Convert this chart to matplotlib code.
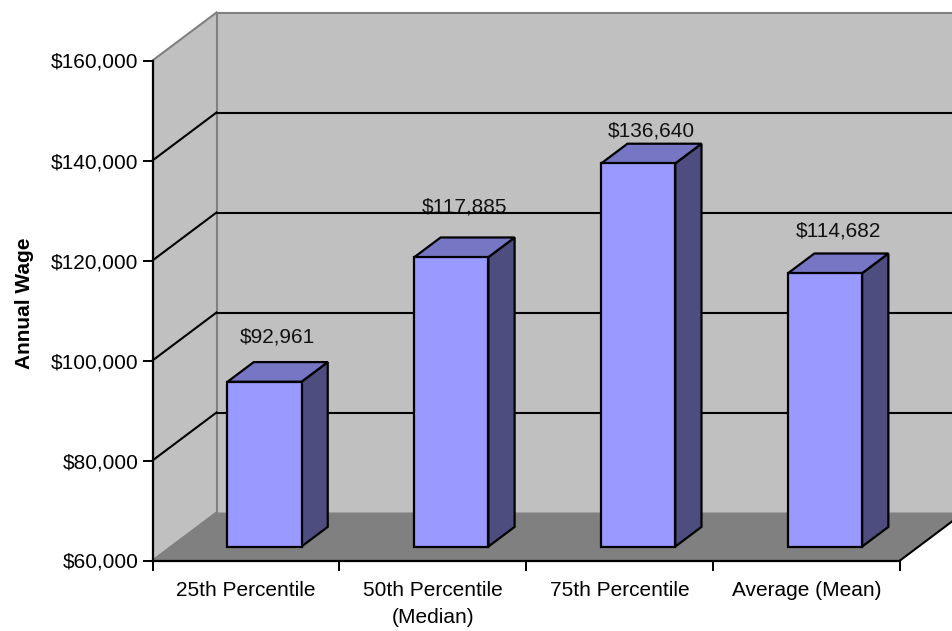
import matplotlib.pyplot as plt
from matplotlib.patches import Polygon
from matplotlib.ticker import FuncFormatter

plt.rcParams['font.family'] = ['Liberation Sans', 'DejaVu Sans']

categories = ["25th Percentile", "50th Percentile\n(Median)", "75th Percentile", "Average (Mean)"]
wages = [92961, 117885, 136640, 114682]
y_ticks = [60000, 80000, 100000, 120000, 140000, 160000]

Y_MIN, Y_MAX = 60000, 160000
N = len(categories)

# depth of the 3d box in data units (x: categories, y: wage)
DX = 0.3425
DY = 9600
# bar sits between these fractions of the depth
F1, F2 = 0.29, 0.70
BAR_W = 0.396

WALL = "#C0C0C0"
FLOOR = "#808080"
EDGE = "#808080"
FRONT = "#9999FF"
TOP = "#7676C4"
SIDE = "#4D4D80"

# how far each value label sits above its bar top (points)
label_lift = [21, 25, 12.5, 19.5]

fig = plt.figure(figsize=(9.52, 6.31), dpi=100)
ax = fig.add_axes([152.5 / 952, 70.5 / 631, 747.5 / 952, 500 / 631])
ax.set_xlim(0, N)
ax.set_ylim(Y_MIN, Y_MAX)
ax.patch.set_visible(False)


def poly(pts, fc, ec="none", lw=0, z=1):
    p = Polygon(pts, closed=True, facecolor=fc, edgecolor=ec, linewidth=lw,
                zorder=z, clip_on=False, joinstyle="miter")
    ax.add_patch(p)


# walls and floor
poly([(0, Y_MIN), (0, Y_MAX), (DX, Y_MAX + DY), (DX, Y_MIN + DY)], WALL, z=0.5)
poly([(DX, Y_MIN + DY), (DX, Y_MAX + DY), (N + DX + 1, Y_MAX + DY), (N + DX + 1, Y_MIN + DY)], WALL, z=0.5)
poly([(0, Y_MIN), (N, Y_MIN), (N + DX, Y_MIN + DY), (DX, Y_MIN + DY)], FLOOR, z=0.6)

ax.plot([0, DX], [Y_MAX, Y_MAX + DY], color=EDGE, lw=1.5, zorder=0.8, clip_on=False)
ax.plot([DX, N + DX + 1], [Y_MAX + DY, Y_MAX + DY], color=EDGE, lw=1.5, zorder=0.8, clip_on=False)
ax.plot([DX, DX], [Y_MIN + DY, Y_MAX + DY], color=EDGE, lw=1.5, zorder=0.8, clip_on=False)
ax.plot([0, DX], [Y_MIN, Y_MIN + DY], color=EDGE, lw=1.5, zorder=0.8, clip_on=False)
ax.plot([N, N + DX], [Y_MIN, Y_MIN + DY], color="black", lw=1.5, zorder=0.8, clip_on=False)

# gridlines on the side and back walls
for v in y_ticks[1:-1]:
    ax.plot([0, DX], [v, v + DY], color="black", lw=1.5, zorder=1.2, clip_on=False)
    ax.plot([DX + 0.004, N + DX + 1], [v + DY, v + DY], color="black", lw=1.5,
            zorder=1.2, clip_on=False)

# bars
for i, v in enumerate(wages):
    x0 = i + 0.5 - BAR_W / 2
    x1 = i + 0.5 + BAR_W / 2
    fx0, fx1 = x0 + F1 * DX, x1 + F1 * DX
    bx0, bx1 = x0 + F2 * DX, x1 + F2 * DX
    fyb, fyt = Y_MIN + F1 * DY, v + F1 * DY
    byb, byt = Y_MIN + F2 * DY, v + F2 * DY
    poly([(fx1, fyb), (fx1, fyt), (bx1, byt), (bx1, byb)], SIDE, "black", 1.6, 3)
    poly([(fx0, fyt), (fx1, fyt), (bx1, byt), (bx0, byt)], TOP, "black", 1.6, 3)
    poly([(fx0, fyb), (fx1, fyb), (fx1, fyt), (fx0, fyt)], FRONT, "black", 1.6, 3)

    mx = i + 0.5 + 0.5 * (F1 + F2) * DX
    my = v + 0.5 * (F1 + F2) * DY
    ax.annotate(f"${v:,.0f}", (mx, my), xytext=(0, label_lift[i]), textcoords="offset points",
                ha="center", va="baseline", fontsize=15, color="#111111", zorder=1.1,
                annotation_clip=False)

# axes
for s in ["top", "right"]:
    ax.spines[s].set_visible(False)
for s in ["left", "bottom"]:
    ax.spines[s].set_linewidth(1.6)
    ax.spines[s].set_zorder(5)

ax.set_yticks(y_ticks)
ax.yaxis.set_major_formatter(FuncFormatter(lambda x, p: f"${x:,.0f}"))
ax.tick_params(axis="y", direction="out", length=7.5, width=1.4, pad=2.5, labelsize=15)

ax.set_xticks(range(N + 1))
ax.set_xticklabels([])
ax.set_xticks([i + 0.5 for i in range(N)], minor=True)
ax.set_xticklabels(categories, minor=True, linespacing=1.5)
ax.tick_params(axis="x", which="major", direction="out", length=7.5, width=1.4)
ax.tick_params(axis="x", which="minor", length=0, pad=15, labelsize=15)

ax.set_ylabel("Annual Wage", fontsize=15, fontweight="bold")
ax.yaxis.set_label_coords(-0.158, 0.515)

plt.savefig("out.png", dpi=100)
